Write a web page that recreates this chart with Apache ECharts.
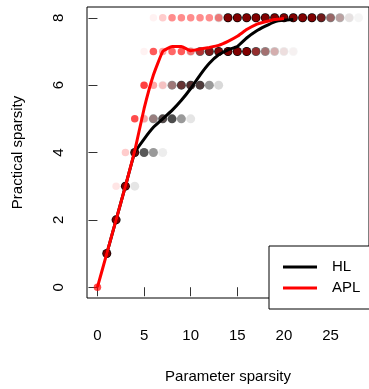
<!DOCTYPE html>
<html style="height: 100%">
<head>
    <meta charset="utf-8">
</head>
<body style="height: 100%; margin: 0; background: #fff">
    <div id="container" style="width: 369px; height: 389px"></div>
    <script type="text/javascript" src="https://cdn.jsdelivr.net/npm/echarts@6/dist/echarts.min.js"></script>
    <script type="text/javascript">
        // dots: [parameter sparsity, practical sparsity, opacity]
        var hlDots = [
            [1, 1, 1], [2, 2, 1], [3, 3, 1], [4, 3, 0.1],
            [4, 4, 0.95], [5, 4, 0.65], [6, 4, 0.4], [7, 4, 0.07],
            [5, 5, 0.05], [6, 5, 0.45], [7, 5, 0.7], [8, 5, 0.7], [9, 5, 0.4], [10, 5, 0.1],
            [7, 6, 0.05], [8, 6, 0.45], [9, 6, 0.75], [10, 6, 0.8], [11, 6, 0.75], [12, 6, 0.4], [13, 6, 0.15],
            [10, 7, 0.1], [11, 7, 0.6], [12, 7, 0.85], [13, 7, 0.95], [14, 7, 1], [15, 7, 1], [16, 7, 1],
            [17, 7, 0.7], [18, 7, 0.45], [19, 7, 0.2], [20, 7, 0.08], [21, 7, 0.04],
            [13, 8, 0.15], [14, 8, 1], [15, 8, 1], [16, 8, 1], [17, 8, 1], [18, 8, 1], [19, 8, 1],
            [20, 8, 1], [21, 8, 1], [22, 8, 1], [23, 8, 1], [24, 8, 0.85], [25, 8, 0.5],
            [26, 8, 0.3], [27, 8, 0.1], [28, 8, 0.04]
        ];
        var aplDots = [
            [0, 0, 0.7], [1, 1, 0.5], [2, 2, 0.5], [2, 3, 0.1], [3, 3, 0.5],
            [3, 4, 0.2], [4, 4, 0.35],
            [4, 5, 0.7], [5, 5, 0.3], [6, 5, 0.1], [7, 5, 0.05],
            [5, 6, 0.75], [6, 6, 0.35], [7, 6, 0.2], [8, 6, 0.15], [9, 6, 0.2], [10, 6, 0.15], [11, 6, 0.08],
            [5, 7, 0.05], [6, 7, 0.65], [7, 7, 0.35], [8, 7, 0.6], [9, 7, 0.65], [10, 7, 0.5], [11, 7, 0.5],
            [12, 7, 0.4], [13, 7, 0.45], [14, 7, 0.5], [15, 7, 0.5], [16, 7, 0.5], [17, 7, 0.4],
            [18, 7, 0.2], [19, 7, 0.15], [20, 7, 0.06], [21, 7, 0.02],
            [6, 8, 0.05], [7, 8, 0.2], [8, 8, 0.45], [9, 8, 0.45], [10, 8, 0.45], [11, 8, 0.45], [12, 8, 0.45],
            [13, 8, 0.45], [14, 8, 0.5], [15, 8, 0.5], [16, 8, 0.5], [17, 8, 0.5], [18, 8, 0.5], [19, 8, 0.5],
            [20, 8, 0.5], [21, 8, 0.5], [22, 8, 0.5], [23, 8, 0.5], [24, 8, 0.35], [25, 8, 0.2],
            [26, 8, 0.1], [27, 8, 0.02]
        ];

        // average curves
        var hlX = [1, 2, 3, 4, 5, 6, 7, 8, 9, 10, 11, 12, 13, 14, 15, 16, 17, 18, 19, 20, 21];
        var hlY = [1, 2, 3, 4, 4.4, 4.75, 5.0, 5.25, 5.55, 5.9, 6.3, 6.65, 6.9, 7.05, 7.15, 7.4, 7.6, 7.75, 7.88, 7.93, 7.95];
        var aplX = [0, 1, 2, 3, 4, 5, 6, 7, 8, 9, 10, 11, 12, 13, 14, 15, 16, 17, 18, 19, 20];
        var aplY = [0, 1, 2, 3, 4.05, 5.3, 6.3, 7.0, 7.15, 7.15, 7.02, 7.07, 7.12, 7.18, 7.3, 7.45, 7.65, 7.8, 7.88, 7.95, 7.98];

        var xTicks = [0, 5, 10, 15, 20, 25];
        var yTicks = [0, 2, 4, 6, 8];

        var font = 'Liberation Sans';

        function dots(list) {
            return list.map(function (d) {
                return { value: [d[0], d[1]], itemStyle: { opacity: d[2] } };
            });
        }
        function pairs(xs, ys) {
            return xs.map(function (x, i) { return [x, ys[i]]; });
        }

        var myChart = echarts.init(document.getElementById('container'), null, { renderer: 'canvas' });

        var option = {
            animation: false,
            grid: {
                left: 87, top: 7, right: -3, bottom: 81,
                show: true, borderColor: '#000', borderWidth: 1, backgroundColor: 'transparent'
            },
            xAxis: {
                type: 'value',
                min: -1.12, max: 29.12,
                name: 'Parameter sparsity',
                nameLocation: 'middle',
                nameGap: 71,
                nameTextStyle: { fontFamily: font, fontSize: 15, color: '#000' },
                axisLine: { show: false },
                splitLine: { show: false },
                axisTick: { show: true, customValues: xTicks, length: 9, lineStyle: { color: '#333' } },
                axisLabel: { customValues: xTicks, margin: 30, fontFamily: font, fontSize: 15, color: '#000' }
            },
            yAxis: {
                type: 'value',
                min: -0.32, max: 8.32,
                name: 'Practical sparsity',
                nameLocation: 'middle',
                nameGap: 62,
                nameRotate: 90,
                nameTextStyle: { fontFamily: font, fontSize: 15, color: '#000' },
                axisLine: { show: false },
                splitLine: { show: false },
                axisTick: { show: true, customValues: yTicks, length: 9, lineStyle: { color: '#333' } },
                axisLabel: {
                    customValues: yTicks, rotate: 90, margin: 21,
                    align: 'center', verticalAlign: 'bottom',
                    fontFamily: font, fontSize: 15, color: '#000'
                }
            },
            legend: {
                data: [{ name: 'HL', icon: 'rect' }, { name: 'APL', icon: 'rect' }],
                orient: 'vertical',
                left: 269, top: 246,
                padding: [13, 20, 13, 14],
                itemGap: 5,
                itemWidth: 34, itemHeight: 3,
                borderColor: '#000', borderWidth: 1, borderRadius: 0,
                backgroundColor: '#fff',
                textStyle: { fontFamily: font, fontSize: 15, color: '#000', lineHeight: 16, padding: [0, 0, 0, 10] }
            },
            series: [
                {
                    name: 'HL dots', type: 'scatter', symbol: 'circle', symbolSize: 9,
                    itemStyle: { color: '#000' }, silent: true, z: 2,
                    data: dots(hlDots)
                },
                {
                    name: 'APL dots', type: 'scatter', symbol: 'circle', symbolSize: 7.5,
                    itemStyle: { color: '#ff0000' }, silent: true, z: 3,
                    data: dots(aplDots)
                },
                {
                    name: 'HL', type: 'line', symbol: 'none', smooth: 0.1, z: 4,
                    lineStyle: { color: '#000', width: 3 }, itemStyle: { color: '#000' },
                    data: pairs(hlX, hlY)
                },
                {
                    name: 'APL', type: 'line', symbol: 'none', smooth: 0.1, z: 5,
                    lineStyle: { color: '#ff0000', width: 3 }, itemStyle: { color: '#ff0000' },
                    data: pairs(aplX, aplY)
                }
            ]
        };

        myChart.setOption(option);
    </script>
</body>
</html>
